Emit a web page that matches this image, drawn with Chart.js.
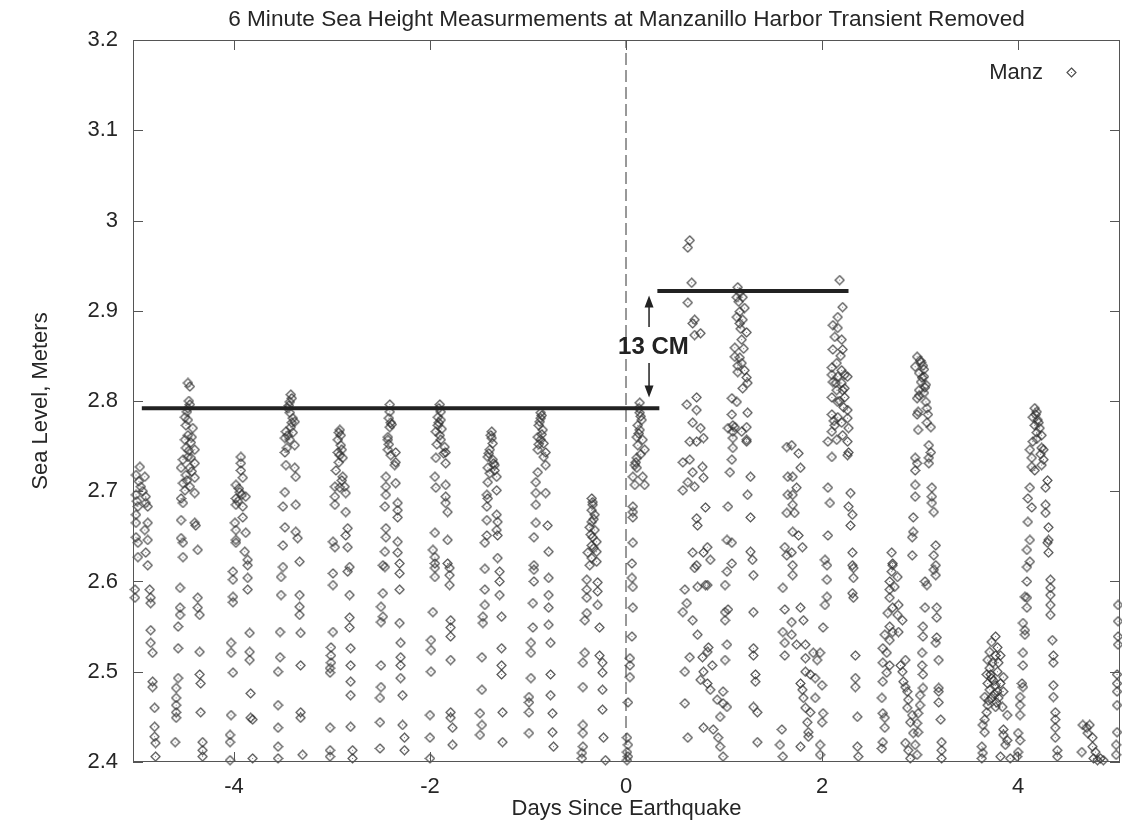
<!DOCTYPE html>
<html>
<head>
<meta charset="utf-8">
<title>Manzanillo sea level</title>
<script src="https://cdn.jsdelivr.net/npm/chart.js@4"></script>
<style>
  html, body { margin: 0; padding: 0; background: #fff; }
  #wrap { width: 1122px; height: 824px; }
</style>
</head>
<body>
<div id="wrap"><canvas id="grafico" width="1122" height="824"></canvas></div>
<script>
// ===============================
// 📦 DATA  (day, sea level in m), one array per high-water cycle
// ===============================
const tide01 = [[-4.96,2.727],[-5.00,2.718],[-4.91,2.716],[-4.95,2.705],[-5.00,2.696],[-4.90,2.694],[-4.90,2.687],[-4.98,2.683],[-4.88,2.683],[-5.00,2.674],[-4.88,2.665],[-5.00,2.665],[-4.91,2.657],[-5.00,2.649],[-4.88,2.646],[-4.98,2.643],[-4.90,2.632],[-4.98,2.627],[-4.88,2.618],[-5.01,2.591],[-5.01,2.582],[-4.86,2.591],[-4.85,2.582],[-4.85,2.576],[-4.85,2.546],[-4.85,2.532],[-4.83,2.521],[-4.83,2.489],[-4.83,2.483],[-4.81,2.460],[-4.81,2.439],[-4.81,2.428],[-4.80,2.421],[-4.80,2.406],[-4.97,2.711],[-4.93,2.700],[-4.99,2.689]];
const tide02 = [[-4.47,2.820],[-4.45,2.816],[-4.45,2.796],[-4.47,2.792],[-4.50,2.782],[-4.47,2.779],[-4.49,2.773],[-4.42,2.770],[-4.47,2.762],[-4.50,2.757],[-4.44,2.754],[-4.49,2.748],[-4.40,2.746],[-4.47,2.738],[-4.44,2.737],[-4.52,2.735],[-4.40,2.731],[-4.54,2.726],[-4.45,2.726],[-4.49,2.718],[-4.40,2.715],[-4.52,2.709],[-4.45,2.705],[-4.50,2.701],[-4.40,2.698],[-4.54,2.692],[-4.52,2.687],[-4.54,2.668],[-4.40,2.665],[-4.39,2.662],[-4.54,2.648],[-4.52,2.643],[-4.37,2.635],[-4.52,2.627],[-4.55,2.593],[-4.55,2.571],[-4.55,2.563],[-4.57,2.550],[-4.57,2.526],[-4.37,2.582],[-4.37,2.571],[-4.35,2.563],[-4.35,2.522],[-4.35,2.497],[-4.34,2.487],[-4.57,2.493],[-4.59,2.482],[-4.59,2.471],[-4.59,2.463],[-4.59,2.455],[-4.59,2.449],[-4.60,2.422],[-4.34,2.455],[-4.32,2.422],[-4.32,2.413],[-4.32,2.406],[-4.46,2.800],[-4.48,2.788],[-4.43,2.760],[-4.46,2.745],[-4.43,2.722],[-4.48,2.712]];
const tide03 = [[-3.93,2.738],[-3.93,2.731],[-3.93,2.723],[-3.91,2.715],[-3.98,2.707],[-3.94,2.699],[-3.88,2.694],[-3.98,2.692],[-3.98,2.685],[-3.91,2.683],[-3.91,2.671],[-3.99,2.665],[-3.98,2.657],[-3.88,2.654],[-3.98,2.646],[-3.98,2.643],[-3.89,2.633],[-3.86,2.624],[-3.86,2.618],[-4.01,2.611],[-4.01,2.602],[-3.86,2.604],[-3.86,2.591],[-4.01,2.583],[-4.01,2.577],[-4.03,2.532],[-4.03,2.521],[-3.84,2.543],[-3.84,2.522],[-3.84,2.513],[-4.01,2.499],[-3.83,2.476],[-4.03,2.452],[-4.04,2.430],[-4.04,2.422],[-4.04,2.402],[-3.81,2.447],[-3.83,2.449],[-3.81,2.404],[-3.95,2.703],[-3.92,2.696],[-3.96,2.689]];
const tide04 = [[-3.42,2.807],[-3.43,2.799],[-3.45,2.792],[-3.43,2.787],[-3.40,2.781],[-3.38,2.777],[-3.42,2.771],[-3.47,2.766],[-3.40,2.765],[-3.48,2.759],[-3.43,2.757],[-3.38,2.751],[-3.48,2.743],[-3.47,2.729],[-3.38,2.726],[-3.37,2.716],[-3.48,2.699],[-3.50,2.683],[-3.37,2.685],[-3.48,2.660],[-3.37,2.655],[-3.35,2.648],[-3.50,2.640],[-3.33,2.622],[-3.50,2.616],[-3.52,2.605],[-3.52,2.585],[-3.33,2.585],[-3.33,2.572],[-3.33,2.563],[-3.32,2.543],[-3.53,2.544],[-3.53,2.516],[-3.55,2.500],[-3.32,2.507],[-3.55,2.463],[-3.32,2.455],[-3.32,2.449],[-3.55,2.438],[-3.55,2.417],[-3.55,2.404],[-3.30,2.408],[-3.41,2.803],[-3.44,2.795],[-3.41,2.776],[-3.45,2.762],[-3.46,2.748]];
const tide05 = [[-2.92,2.768],[-2.91,2.762],[-2.94,2.757],[-2.91,2.751],[-2.94,2.743],[-2.92,2.740],[-2.89,2.737],[-2.96,2.723],[-2.89,2.716],[-2.97,2.705],[-2.87,2.705],[-2.92,2.704],[-2.86,2.698],[-2.97,2.694],[-2.97,2.685],[-2.86,2.677],[-2.84,2.659],[-2.86,2.651],[-2.99,2.644],[-2.97,2.638],[-2.84,2.638],[-2.82,2.616],[-2.99,2.609],[-2.99,2.596],[-2.84,2.611],[-2.82,2.585],[-2.82,2.560],[-2.82,2.549],[-2.81,2.526],[-2.81,2.507],[-2.81,2.489],[-2.81,2.474],[-2.81,2.439],[-2.79,2.413],[-2.79,2.404],[-2.99,2.544],[-3.01,2.527],[-3.01,2.518],[-3.01,2.510],[-3.02,2.504],[-3.02,2.499],[-3.02,2.438],[-3.02,2.413],[-3.02,2.406],[-2.93,2.765],[-2.90,2.746],[-2.93,2.732],[-2.90,2.712]];
const tide06 = [[-2.41,2.796],[-2.41,2.788],[-2.40,2.776],[-2.41,2.771],[-2.43,2.760],[-2.43,2.757],[-2.43,2.746],[-2.35,2.743],[-2.40,2.740],[-2.35,2.732],[-2.36,2.729],[-2.45,2.716],[-2.35,2.709],[-2.45,2.705],[-2.45,2.696],[-2.46,2.683],[-2.33,2.687],[-2.33,2.679],[-2.33,2.671],[-2.45,2.659],[-2.45,2.649],[-2.33,2.644],[-2.46,2.633],[-2.33,2.632],[-2.31,2.620],[-2.46,2.616],[-2.48,2.618],[-2.31,2.609],[-2.31,2.591],[-2.48,2.587],[-2.50,2.572],[-2.48,2.561],[-2.50,2.555],[-2.31,2.554],[-2.30,2.532],[-2.30,2.516],[-2.30,2.507],[-2.30,2.493],[-2.28,2.474],[-2.50,2.507],[-2.50,2.483],[-2.51,2.471],[-2.51,2.444],[-2.51,2.415],[-2.28,2.441],[-2.26,2.427],[-2.26,2.413],[-2.42,2.781],[-2.39,2.774],[-2.42,2.752]];
const tide07 = [[-1.90,2.796],[-1.89,2.788],[-1.92,2.782],[-1.89,2.779],[-1.92,2.773],[-1.94,2.766],[-1.90,2.762],[-1.89,2.757],[-1.85,2.749],[-1.84,2.743],[-1.94,2.737],[-1.84,2.731],[-1.95,2.716],[-1.84,2.707],[-1.94,2.704],[-1.84,2.694],[-1.84,2.687],[-1.82,2.677],[-1.95,2.654],[-1.82,2.646],[-1.97,2.635],[-1.95,2.627],[-1.95,2.620],[-1.82,2.620],[-1.95,2.615],[-1.95,2.605],[-1.80,2.615],[-1.80,2.607],[-1.80,2.596],[-1.97,2.566],[-1.99,2.535],[-1.99,2.524],[-1.99,2.500],[-1.79,2.557],[-1.79,2.549],[-1.79,2.539],[-1.79,2.513],[-1.79,2.455],[-1.79,2.449],[-1.77,2.438],[-1.77,2.419],[-2.00,2.452],[-2.00,2.427],[-2.00,2.404],[-1.91,2.792],[-1.91,2.776],[-1.88,2.769],[-1.93,2.752],[-1.86,2.742]];
const tide08 = [[-1.37,2.766],[-1.37,2.759],[-1.36,2.753],[-1.39,2.746],[-1.41,2.738],[-1.36,2.735],[-1.34,2.729],[-1.41,2.726],[-1.34,2.723],[-1.32,2.716],[-1.41,2.710],[-1.32,2.701],[-1.42,2.696],[-1.41,2.692],[-1.42,2.683],[-1.32,2.674],[-1.42,2.668],[-1.31,2.666],[-1.32,2.657],[-1.31,2.651],[-1.42,2.651],[-1.44,2.643],[-1.31,2.626],[-1.44,2.614],[-1.29,2.611],[-1.44,2.591],[-1.29,2.600],[-1.29,2.585],[-1.44,2.574],[-1.46,2.561],[-1.46,2.554],[-1.27,2.561],[-1.47,2.516],[-1.27,2.526],[-1.27,2.507],[-1.27,2.497],[-1.47,2.480],[-1.49,2.454],[-1.47,2.441],[-1.49,2.430],[-1.26,2.455],[-1.26,2.422],[-1.38,2.762],[-1.40,2.742],[-1.35,2.731],[-1.39,2.720]];
const tide09 = [[-0.87,2.787],[-0.87,2.781],[-0.89,2.773],[-0.85,2.768],[-0.90,2.760],[-0.87,2.757],[-0.84,2.753],[-0.90,2.746],[-0.82,2.743],[-0.82,2.729],[-0.90,2.721],[-0.92,2.710],[-0.92,2.698],[-0.82,2.698],[-0.92,2.685],[-0.92,2.665],[-0.80,2.662],[-0.94,2.649],[-0.79,2.633],[-0.94,2.618],[-0.94,2.613],[-0.94,2.600],[-0.79,2.604],[-0.79,2.585],[-0.95,2.576],[-0.79,2.571],[-0.79,2.552],[-0.95,2.549],[-0.97,2.532],[-0.97,2.521],[-0.77,2.532],[-0.77,2.497],[-0.97,2.493],[-0.99,2.472],[-0.99,2.466],[-0.99,2.455],[-0.77,2.474],[-0.75,2.454],[-0.75,2.433],[-0.74,2.417],[-0.99,2.432],[-0.86,2.784],[-0.88,2.777],[-0.86,2.763],[-0.89,2.752],[-0.84,2.738]];
const tide10 = [[-0.35,2.692],[-0.34,2.685],[-0.35,2.679],[-0.32,2.674],[-0.35,2.666],[-0.37,2.660],[-0.32,2.657],[-0.34,2.649],[-0.30,2.644],[-0.35,2.640],[-0.30,2.633],[-0.39,2.632],[-0.35,2.626],[-0.30,2.622],[-0.37,2.618],[-0.40,2.602],[-0.29,2.599],[-0.40,2.591],[-0.29,2.589],[-0.40,2.582],[-0.29,2.574],[-0.40,2.565],[-0.42,2.557],[-0.27,2.549],[-0.42,2.521],[-0.44,2.510],[-0.27,2.518],[-0.24,2.510],[-0.24,2.499],[-0.44,2.483],[-0.24,2.480],[-0.24,2.458],[-0.44,2.441],[-0.44,2.432],[-0.44,2.417],[-0.45,2.410],[-0.45,2.404],[-0.23,2.427],[-0.21,2.402],[-0.34,2.688],[-0.33,2.669],[-0.36,2.652],[-0.33,2.637]];
const tide11 = [[0.14,2.798],[0.14,2.787],[0.16,2.779],[0.12,2.773],[0.14,2.768],[0.11,2.760],[0.17,2.757],[0.12,2.751],[0.19,2.746],[0.11,2.737],[0.09,2.729],[0.11,2.726],[0.07,2.716],[0.17,2.716],[0.09,2.707],[0.19,2.707],[0.07,2.683],[0.07,2.677],[0.07,2.671],[0.07,2.643],[0.06,2.620],[0.06,2.604],[0.07,2.594],[0.07,2.571],[0.06,2.539],[0.04,2.515],[0.04,2.507],[0.04,2.494],[0.02,2.466],[0.01,2.427],[0.02,2.419],[0.01,2.411],[0.02,2.406],[0.01,2.402],[0.13,2.792],[0.15,2.783],[0.13,2.764],[0.15,2.741],[0.10,2.732]];
const tide12 = [[0.65,2.978],[0.63,2.970],[0.67,2.931],[0.63,2.909],[0.70,2.890],[0.68,2.886],[0.70,2.873],[0.76,2.875],[0.72,2.804],[0.62,2.796],[0.72,2.790],[0.68,2.776],[0.76,2.770],[0.65,2.755],[0.72,2.755],[0.79,2.759],[0.58,2.732],[0.65,2.735],[0.78,2.727],[0.68,2.721],[0.79,2.715],[0.63,2.710],[0.58,2.701],[0.70,2.705],[0.81,2.682],[0.72,2.670],[0.73,2.662],[0.83,2.638],[0.68,2.632],[0.79,2.632],[0.86,2.624],[0.72,2.618],[0.70,2.615],[0.81,2.596],[0.73,2.594],[0.83,2.596],[0.60,2.591],[0.62,2.576],[0.58,2.566],[0.68,2.557],[0.73,2.541],[0.84,2.527],[0.83,2.522],[0.65,2.516],[0.78,2.516],[0.88,2.507],[0.60,2.500],[0.79,2.500],[0.76,2.491],[0.83,2.487],[0.86,2.480],[0.99,2.478],[0.93,2.469],[0.99,2.465],[1.03,2.461],[0.60,2.465],[0.96,2.450],[0.79,2.438],[0.89,2.436],[0.63,2.427],[0.94,2.427],[0.96,2.417],[0.99,2.406],[1.03,2.530],[1.01,2.513],[1.01,2.566],[1.04,2.569],[1.01,2.557],[1.03,2.611],[1.01,2.596]];
const tide13 = [[1.14,2.926],[1.16,2.920],[1.13,2.915],[1.19,2.915],[1.21,2.903],[1.16,2.899],[1.13,2.893],[1.19,2.890],[1.16,2.886],[1.23,2.876],[1.18,2.868],[1.11,2.859],[1.11,2.849],[1.16,2.848],[1.18,2.842],[1.21,2.834],[1.14,2.832],[1.23,2.826],[1.24,2.820],[1.19,2.814],[1.08,2.803],[1.13,2.799],[1.08,2.785],[1.24,2.787],[1.09,2.773],[1.23,2.771],[1.18,2.766],[1.09,2.759],[1.23,2.755],[1.04,2.770],[1.11,2.771],[1.09,2.766],[1.23,2.757],[1.09,2.748],[1.08,2.735],[1.06,2.721],[1.27,2.716],[1.24,2.696],[1.27,2.671],[1.27,2.633],[1.29,2.624],[1.30,2.607],[1.30,2.566],[1.30,2.526],[1.30,2.518],[1.32,2.497],[1.32,2.489],[1.30,2.461],[1.34,2.455],[1.34,2.422],[1.04,2.683],[1.03,2.646],[1.08,2.643],[1.08,2.620],[1.15,2.910],[1.17,2.880],[1.20,2.858],[1.14,2.839]];
const tide14 = [[1.64,2.749],[1.65,2.716],[1.65,2.696],[1.64,2.676],[1.62,2.638],[1.64,2.629],[1.69,2.751],[1.76,2.742],[1.78,2.726],[1.70,2.716],[1.74,2.704],[1.70,2.696],[1.70,2.685],[1.72,2.676],[1.70,2.655],[1.76,2.651],[1.80,2.638],[1.69,2.632],[1.70,2.618],[1.60,2.593],[1.62,2.569],[1.60,2.544],[1.62,2.532],[1.62,2.518],[1.59,2.436],[1.57,2.419],[1.60,2.406],[1.70,2.607],[1.78,2.571],[1.81,2.557],[1.69,2.555],[1.69,2.541],[1.74,2.530],[1.83,2.530],[1.91,2.521],[1.83,2.515],[1.95,2.513],[1.98,2.521],[1.83,2.500],[1.88,2.497],[1.78,2.487],[1.93,2.493],[2.00,2.485],[1.80,2.480],[1.81,2.471],[1.93,2.471],[1.83,2.460],[2.01,2.454],[1.88,2.455],[1.85,2.444],[2.00,2.444],[1.86,2.433],[1.86,2.428],[1.78,2.417],[1.98,2.419],[1.98,2.408]];
const tide15 = [[2.18,2.934],[2.21,2.904],[2.16,2.893],[2.11,2.884],[2.16,2.881],[2.13,2.871],[2.20,2.868],[2.11,2.857],[2.21,2.857],[2.15,2.842],[2.10,2.837],[2.20,2.834],[2.10,2.829],[2.23,2.829],[2.16,2.827],[2.26,2.827],[2.11,2.821],[2.20,2.820],[2.23,2.814],[2.15,2.812],[2.21,2.812],[2.10,2.804],[2.23,2.804],[2.16,2.799],[2.26,2.790],[2.10,2.785],[2.16,2.782],[2.26,2.781],[2.13,2.773],[2.20,2.776],[2.27,2.770],[2.10,2.766],[2.21,2.762],[2.15,2.757],[2.26,2.755],[2.06,2.755],[2.27,2.743],[2.10,2.738],[2.26,2.740],[2.06,2.704],[2.08,2.687],[2.29,2.698],[2.27,2.683],[2.31,2.674],[2.29,2.662],[2.06,2.651],[2.31,2.632],[2.03,2.624],[2.31,2.618],[2.32,2.615],[2.32,2.604],[2.31,2.587],[2.32,2.582],[2.34,2.518],[2.34,2.493],[2.34,2.483],[2.36,2.450],[2.36,2.417],[2.37,2.406],[2.05,2.618],[2.05,2.602],[2.05,2.583],[2.03,2.574],[2.01,2.549],[2.19,2.850],[2.14,2.820],[2.18,2.800],[2.22,2.793],[2.12,2.778]];
const tide16 = [[2.72,2.618],[2.71,2.611],[2.77,2.605],[2.69,2.600],[2.74,2.594],[2.69,2.591],[2.69,2.582],[2.78,2.574],[2.72,2.571],[2.67,2.565],[2.77,2.563],[2.82,2.557],[2.69,2.550],[2.72,2.544],[2.78,2.544],[2.64,2.541],[2.69,2.535],[2.62,2.526],[2.66,2.521],[2.62,2.510],[2.69,2.507],[2.66,2.499],[2.62,2.489],[2.85,2.513],[2.80,2.507],[2.82,2.500],[2.83,2.489],[2.85,2.483],[2.87,2.478],[2.61,2.471],[2.88,2.469],[2.87,2.460],[2.62,2.454],[2.64,2.449],[2.92,2.452],[2.90,2.444],[3.00,2.463],[2.98,2.454],[2.97,2.443],[2.98,2.433],[2.64,2.438],[2.93,2.432],[2.62,2.422],[2.85,2.421],[2.95,2.419],[2.61,2.415],[2.88,2.413],[2.97,2.408],[2.90,2.404],[2.71,2.632],[2.72,2.620]];
const tide17 = [[2.97,2.849],[3.01,2.843],[2.95,2.838],[3.04,2.835],[2.99,2.831],[3.04,2.827],[3.01,2.821],[3.06,2.818],[2.99,2.812],[3.04,2.809],[2.97,2.803],[3.06,2.799],[3.07,2.792],[2.98,2.788],[2.97,2.785],[3.07,2.776],[3.11,2.771],[2.98,2.768],[3.09,2.751],[3.11,2.743],[3.09,2.737],[3.09,2.731],[2.95,2.737],[2.97,2.731],[2.95,2.723],[2.95,2.707],[3.12,2.704],[2.95,2.694],[3.12,2.694],[3.12,2.687],[3.14,2.677],[2.93,2.671],[2.93,2.655],[2.92,2.649],[3.16,2.640],[2.92,2.629],[3.14,2.629],[3.16,2.618],[3.14,2.613],[3.16,2.607],[3.17,2.571],[3.17,2.560],[3.17,2.538],[3.16,2.532],[3.19,2.513],[3.19,2.482],[3.19,2.478],[3.19,2.466],[3.21,2.447],[3.22,2.422],[3.22,2.413],[3.22,2.404],[3.05,2.600],[3.07,2.596],[3.05,2.571],[3.03,2.550],[3.03,2.539],[3.02,2.521],[3.02,2.507],[3.03,2.497],[3.03,2.482],[3.00,2.474],[3.00,2.845],[3.03,2.839],[3.02,2.826],[3.05,2.815],[2.99,2.806],[3.08,2.785]];
const tide18 = [[3.77,2.539],[3.73,2.533],[3.79,2.527],[3.71,2.522],[3.77,2.518],[3.82,2.518],[3.69,2.513],[3.74,2.510],[3.80,2.510],[3.71,2.504],[3.79,2.500],[3.68,2.497],[3.73,2.493],[3.85,2.494],[3.69,2.487],[3.77,2.485],[3.82,2.487],[3.71,2.480],[3.79,2.478],[3.85,2.478],[3.66,2.472],[3.73,2.471],[3.80,2.471],[3.69,2.463],[3.77,2.461],[3.84,2.461],[3.68,2.455],[3.89,2.452],[3.66,2.447],[3.64,2.441],[3.85,2.436],[3.85,2.430],[3.66,2.433],[3.89,2.424],[3.63,2.417],[3.64,2.410],[3.63,2.404],[3.87,2.419],[3.92,2.404],[3.82,2.406],[3.72,2.497],[3.75,2.490],[3.76,2.475],[3.70,2.468],[3.78,2.466]];
const tide19 = [[4.17,2.792],[4.19,2.788],[4.15,2.782],[4.20,2.779],[4.17,2.773],[4.22,2.770],[4.19,2.765],[4.24,2.762],[4.15,2.755],[4.24,2.748],[4.12,2.746],[4.26,2.746],[4.14,2.737],[4.26,2.735],[4.17,2.723],[4.24,2.729],[4.30,2.712],[4.28,2.704],[4.12,2.704],[4.10,2.692],[4.14,2.682],[4.28,2.685],[4.28,2.676],[4.10,2.666],[4.31,2.660],[4.12,2.646],[4.31,2.646],[4.30,2.643],[4.09,2.635],[4.31,2.632],[4.12,2.622],[4.09,2.616],[4.09,2.600],[4.07,2.583],[4.09,2.582],[4.09,2.571],[4.05,2.554],[4.07,2.546],[4.07,2.541],[4.05,2.521],[4.05,2.507],[4.04,2.487],[4.05,2.483],[4.02,2.472],[4.02,2.463],[4.02,2.452],[4.00,2.432],[4.02,2.424],[4.00,2.411],[3.99,2.406],[4.33,2.602],[4.33,2.593],[4.33,2.585],[4.33,2.574],[4.33,2.563],[4.35,2.535],[4.36,2.518],[4.36,2.510],[4.36,2.485],[4.36,2.472],[4.38,2.455],[4.38,2.447],[4.38,2.438],[4.38,2.427],[4.40,2.413],[4.40,2.406],[4.18,2.785],[4.21,2.776],[4.19,2.758],[4.23,2.741],[4.14,2.727]];
const tide20 = [[4.66,2.441],[4.70,2.438],[4.73,2.441],[4.71,2.432],[4.76,2.427],[4.65,2.411],[4.76,2.417],[4.79,2.411],[4.77,2.404],[4.84,2.404],[4.87,2.402],[4.81,2.402]];
const tide21 = [[5.02,2.574],[5.02,2.556],[5.02,2.539],[5.02,2.530],[5.01,2.497],[5.01,2.487],[5.01,2.478],[5.01,2.463],[5.01,2.433],[5.00,2.419],[5.00,2.408]];

// axis ticks
const dayTicks = [-4, -2, 0, 2, 4];
const levelTicks = [2.4, 2.5, 2.6, 2.7, 2.8, 2.9, 3.0, 3.1, 3.2];

// mean high water before / after the quake (the step is 13 cm)
const levelBefore = 2.792;
const levelShift = 0.13;
const levelAfter = levelBefore + levelShift;
const beforeSpan = [-4.94, 0.34];
const afterSpan = [0.32, 2.27];

// ===============================
// ✏️ TEXTS
// ===============================
const titleText = "6 Minute Sea Height Measurmements at Manzanillo Harbor Transient Removed";
const seriesName = "Manz";
const fontFamily = "'Liberation Sans', Arial, Helvetica, sans-serif";
const ink = "#262626";

const manzPoints = [tide01, tide02, tide03, tide04, tide05, tide06, tide07,
  tide08, tide09, tide10, tide11, tide12, tide13, tide14, tide15, tide16,
  tide17, tide18, tide19, tide20, tide21].flat().map(([x, y]) => ({ x, y }));

// ===============================
// ◇ DIAMOND MARKER (open, with a dot in the middle)
// ===============================
function makeDiamond() {
  const c = document.createElement("canvas");
  c.width = 11;
  c.height = 11;
  const g = c.getContext("2d");
  g.strokeStyle = "rgba(45,45,45,0.85)";
  g.lineWidth = 1.15;
  g.beginPath();
  g.moveTo(5.5, 1);
  g.lineTo(10, 5.5);
  g.lineTo(5.5, 10);
  g.lineTo(1, 5.5);
  g.closePath();
  g.stroke();
  g.fillStyle = "rgba(60,60,60,0.7)";
  g.fillRect(5, 5, 1, 1);
  return c;
}
const diamond = makeDiamond();

// ===============================
// 🖼️ FRAME, TITLE, LEGEND, 13 CM NOTE
// ===============================
const decorations = {
  id: "decorations",
  afterDraw(chart) {
    const { ctx, chartArea: a, scales: { x, y } } = chart;
    ctx.save();

    // box + inward ticks on all four sides
    ctx.strokeStyle = "#555";
    ctx.lineWidth = 1;
    ctx.strokeRect(a.left + 0.5, a.top + 0.5, a.right - a.left - 1, a.bottom - a.top - 1);
    ctx.beginPath();
    dayTicks.forEach(v => {
      const px = Math.round(x.getPixelForValue(v)) + 0.5;
      ctx.moveTo(px, a.bottom); ctx.lineTo(px, a.bottom - 10);
      ctx.moveTo(px, a.top); ctx.lineTo(px, a.top + 10);
    });
    levelTicks.forEach(v => {
      const py = Math.round(y.getPixelForValue(v)) + 0.5;
      ctx.moveTo(a.left, py); ctx.lineTo(a.left + 10, py);
      ctx.moveTo(a.right, py); ctx.lineTo(a.right - 10, py);
    });
    ctx.stroke();

    // title
    ctx.fillStyle = ink;
    ctx.font = "22.6px " + fontFamily;
    ctx.textAlign = "center";
    ctx.textBaseline = "alphabetic";
    ctx.fillText(titleText, (a.left + a.right) / 2, 26);

    // legend
    ctx.font = "22px " + fontFamily;
    ctx.textAlign = "right";
    ctx.textBaseline = "middle";
    ctx.fillText(seriesName, a.right - 77, 73);
    ctx.drawImage(diamond, a.right - 54, 67);

    // arrows showing the shift
    const ax = x.getPixelForValue(0.235);
    const upTip = y.getPixelForValue(levelAfter - 0.005);
    const downTip = y.getPixelForValue(levelBefore + 0.012);
    const upTail = y.getPixelForValue(2.882);
    const downTail = y.getPixelForValue(2.842);
    ctx.strokeStyle = "#222";
    ctx.fillStyle = "#222";
    ctx.lineWidth = 1.5;
    ctx.beginPath();
    ctx.moveTo(ax, upTail); ctx.lineTo(ax, upTip + 10);
    ctx.moveTo(ax, downTail); ctx.lineTo(ax, downTip - 10);
    ctx.stroke();
    ctx.beginPath();
    ctx.moveTo(ax, upTip); ctx.lineTo(ax - 4.5, upTip + 12); ctx.lineTo(ax + 4.5, upTip + 12); ctx.closePath();
    ctx.moveTo(ax, downTip); ctx.lineTo(ax - 4.5, downTip - 12); ctx.lineTo(ax + 4.5, downTip - 12); ctx.closePath();
    ctx.fill();

    // step size label
    ctx.font = "bold 24px " + fontFamily;
    ctx.textAlign = "center";
    ctx.fillText(Math.round(levelShift * 100) + " CM", x.getPixelForValue(0.28), y.getPixelForValue(2.859));

    ctx.restore();
  }
};

// ===============================
// 📊 CHART
// ===============================
const ctx = document.getElementById("grafico").getContext("2d");

new Chart(ctx, {
  type: "scatter",
  data: {
    datasets: [
      {
        label: "before",
        data: beforeSpan.map(d => ({ x: d, y: levelBefore })),
        showLine: true,
        borderColor: "#222",
        borderWidth: 4,
        pointRadius: 0,
        order: 0
      },
      {
        label: "after",
        data: afterSpan.map(d => ({ x: d, y: levelAfter })),
        showLine: true,
        borderColor: "#222",
        borderWidth: 4,
        pointRadius: 0,
        order: 0
      },
      {
        label: "quake",
        data: [{ x: 0, y: 2.4 }, { x: 0, y: 3.2 }],
        showLine: true,
        borderColor: "#333",
        borderWidth: 1,
        borderDash: [12, 5],
        pointRadius: 0,
        order: 1
      },
      {
        label: seriesName,
        data: manzPoints,
        pointStyle: diamond,
        pointRadius: 4,
        clip: false,
        order: 2
      }
    ]
  },
  options: {
    responsive: false,
    animation: false,
    devicePixelRatio: 1,
    layout: { autoPadding: false, padding: { top: 40, right: 2, left: 0, bottom: 0 } },
    plugins: {
      legend: { display: false },
      tooltip: { enabled: false },
      title: { display: false }
    },
    scales: {
      x: {
        type: "linear",
        min: -5.03,
        max: 5.04,
        afterBuildTicks: s => { s.ticks = dayTicks.map(v => ({ value: v })); },
        afterFit: s => { s.height = 62; },
        grid: { display: false, drawTicks: false },
        border: { display: false },
        ticks: { color: ink, padding: 12, font: { family: fontFamily, size: 22 } },
        title: {
          display: true,
          text: "Days Since Earthquake",
          color: ink,
          padding: { top: 0, bottom: 2 },
          font: { family: fontFamily, size: 22 }
        }
      },
      y: {
        type: "linear",
        min: 2.4,
        max: 3.2,
        afterBuildTicks: s => { s.ticks = levelTicks.map(v => ({ value: v })); },
        afterFit: s => { s.width = 133; },
        grid: { display: false, drawTicks: false },
        border: { display: false },
        ticks: {
          color: ink,
          padding: 15,
          font: { family: fontFamily, size: 22 },
          callback: v => String(Number(v.toFixed(1)))
        },
        title: {
          display: true,
          text: "Sea Level, Meters",
          color: ink,
          padding: { top: 28, bottom: 0 },
          font: { family: fontFamily, size: 22 }
        }
      }
    }
  },
  plugins: [decorations]
});
</script>
</body>
</html>
